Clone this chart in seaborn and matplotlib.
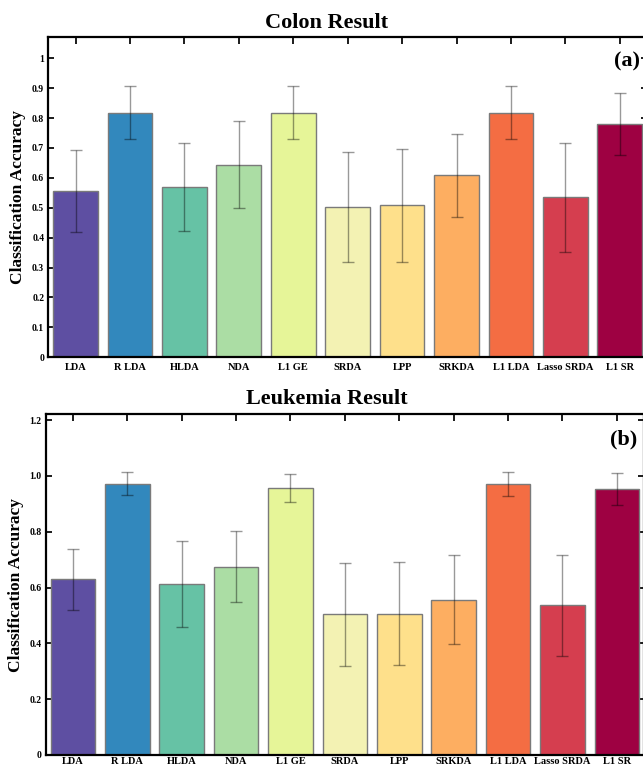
import numpy as np
import pandas as pd
import matplotlib
matplotlib.use("Agg")
import matplotlib.pyplot as plt
import seaborn as sns

methods = ["LDA", "R LDA", "HLDA", "NDA", "L1 GE", "SRDA", "LPP", "SRKDA",
           "L1 LDA", "Lasso SRDA", "L1 SR"]

colon_acc = [0.556, 0.818, 0.569, 0.644, 0.818, 0.502, 0.508, 0.609, 0.818, 0.535, 0.779]
colon_err = [0.136, 0.088, 0.148, 0.145, 0.089, 0.185, 0.190, 0.139, 0.088, 0.183, 0.104]

leuk_acc = [0.629, 0.972, 0.613, 0.674, 0.958, 0.504, 0.507, 0.557, 0.971, 0.536, 0.954]
leuk_err = [0.111, 0.042, 0.154, 0.127, 0.050, 0.185, 0.184, 0.158, 0.042, 0.182, 0.058]

colon_ticks = [0, 0.1, 0.2, 0.3, 0.4, 0.5, 0.6, 0.7, 0.8, 0.9, 1.0]
colon_ticklabels = ["0", "0.1", "0.2", "0.3", "0.4", "0.5", "0.6", "0.7", "0.8", "0.9", "1"]
leuk_ticks = [0, 0.2, 0.4, 0.6, 0.8, 1.0, 1.2]
leuk_ticklabels = ["0", "0.2", "0.4", "0.6", "0.8", "1.0", "1.2"]

colors = ["#5e4fa2", "#3288bd", "#66c2a5", "#abdda4", "#e6f598", "#f3f2b3",
          "#fee08b", "#fdae61", "#f46d43", "#d53e4f", "#9e0142"]

sns.set_theme(style="white")
plt.rcParams["font.family"] = ["Liberation Serif", "DejaVu Serif"]
plt.rcParams["font.weight"] = "bold"
plt.rcParams["text.color"] = "black"
plt.rcParams["axes.labelcolor"] = "black"
plt.rcParams["xtick.color"] = "black"
plt.rcParams["ytick.color"] = "black"

W, H = 643, 767
fig = plt.figure(figsize=(W / 100, H / 100), dpi=100)

def px_axes(left, right, top, bottom):
    return fig.add_axes([left / W, 1 - bottom / H, (right - left) / W, (bottom - top) / H])

ax1 = px_axes(48.3, 647, 37.3, 357.3)
ax2 = px_axes(45.7, 644, 414, 755)

panels = [
    (ax1, colon_acc, colon_err, "Colon Result", "(a)", (0, 1.07), colon_ticks, colon_ticklabels, 4),
    (ax2, leuk_acc, leuk_err, "Leukemia Result", "(b)", (0, 1.222), leuk_ticks, leuk_ticklabels, 1.5),
]

for ax, acc, err, title, tag, ylim, ticks, ticklabels, xpad in panels:
    df = pd.DataFrame({"method": methods, "acc": acc})
    sns.barplot(data=df, x="method", y="acc", hue="method", palette=colors,
                legend=False, errorbar=None, width=0.82, ax=ax,
                edgecolor="#7a7a7a", linewidth=1.0, saturation=1)
    ax.errorbar(np.arange(len(methods)), acc, yerr=err, fmt="none",
                ecolor="black", alpha=0.4, elinewidth=1.0, capsize=4, capthick=1.0)
    ax.set_xlim(-0.5, len(methods) - 0.5)
    ax.set_ylim(*ylim)
    ax.set_yticks(ticks)
    ax.set_yticklabels(ticklabels)
    ax.set_xlabel("")
    ax.set_ylabel("Classification Accuracy", fontsize=12.5, fontweight="bold", labelpad=4)
    ax.tick_params(axis="x", labelsize=7.5, direction="in", top=True, bottom=False,
                   length=5, pad=xpad)
    ax.tick_params(axis="y", labelsize=7, direction="in", right=True, left=True,
                   length=4, pad=3)
    for lbl in ax.get_xticklabels() + ax.get_yticklabels():
        lbl.set_fontweight("bold")
    for side, sp in ax.spines.items():
        sp.set_color("black")
        sp.set_linewidth(1.6)
    ax.text(327 / W, (ax.get_position().y1 + 0.006), title, transform=fig.transFigure,
            ha="center", va="bottom", fontsize=16, fontweight="bold")
    ax.text(0.995 - 4 / 600, 0.955, tag, transform=ax.transAxes, ha="right", va="top",
            fontsize=16, fontweight="bold")
    ax.grid(False)

fig.savefig("out.png", dpi=100)
